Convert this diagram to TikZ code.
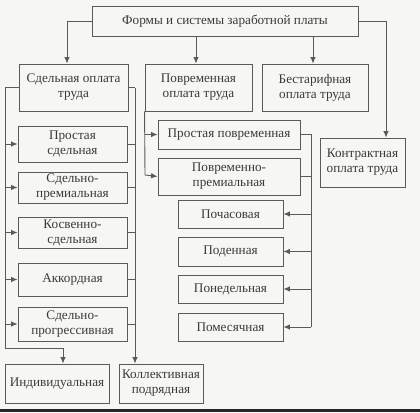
\documentclass[tikz,border=0pt]{standalone}
\usepackage{fontspec}
\setmainfont{Liberation Serif}
\usetikzlibrary{arrows.meta}
\definecolor{ln}{HTML}{5A5A5A}
\definecolor{tx}{HTML}{3A3A3A}
\definecolor{bg}{HTML}{F6F6F4}
\begin{document}
\begin{tikzpicture}[x=1pt,y=-1pt,
  box/.style={draw=ln, line width=0.9pt, inner sep=0pt, align=center, text=tx,
    font=\fontsize{13.2}{15}\selectfont},
  conn/.style={draw=ln, line width=0.9pt},
  arr/.style={conn, -{Latex[length=6.5pt,width=5.5pt]}}]
\useasboundingbox (0,0) rectangle (420,412);
\fill[bg] (0,0) rectangle (420,412);
\fill[black!85] (0,409) rectangle (420,412);
% boxes
\node[box, minimum width=266pt, minimum height=30pt] (top) at (225,21) {Формы и системы заработной платы};
\node[box, minimum width=109pt, minimum height=47pt] (sd) at (73.5,87.5) {Сдельная оплата\\труда};
\node[box, minimum width=107pt, minimum height=47pt] (pv) at (198.5,87.5) {Повременная\\оплата труда};
\node[box, minimum width=106pt, minimum height=47pt] (bt) at (315,87.5) {Бестарифная\\оплата труда};
\node[box, minimum width=85pt, minimum height=49pt] (kt) at (362.5,162.5) {Контрактная\\оплата труда};
\node[box, minimum width=109pt, minimum height=36pt] (s1) at (72.5,144) {Простая\\сдельная};
\node[box, minimum width=109pt, minimum height=31pt] (s2) at (72.5,187.5) {Сдельно-\\премиальная};
\node[box, minimum width=109pt, minimum height=31pt] (s3) at (72.5,232.5) {Косвенно-\\сдельная};
\node[box, minimum width=109pt, minimum height=33pt] (s4) at (72.5,279.5) {Аккордная};
\node[box, minimum width=109pt, minimum height=34pt] (s5) at (72.5,324) {Сдельно-\\прогрессивная};
\node[box, minimum width=104pt, minimum height=39pt] (ind) at (57,383.5) {Индивидуальная};
\node[box, minimum width=84pt, minimum height=39pt] (kol) at (161,383.5) {Коллективная\\подрядная};
\node[box, minimum width=142pt, minimum height=29pt] (p1) at (229,134.5) {Простая повременная};
\node[box, minimum width=142pt, minimum height=37pt] (p2) at (229,176.5) {Повременно-\\премиальная};
\node[box, minimum width=105pt, minimum height=28pt] (h1) at (230.5,214) {Почасовая};
\node[box, minimum width=105pt, minimum height=29pt] (h2) at (230.5,251.5) {Поденная};
\node[box, minimum width=105pt, minimum height=28pt] (h3) at (230.5,289) {Понедельная};
\node[box, minimum width=105pt, minimum height=28pt] (h4) at (230.5,327) {Помесячная};
% coordinates
\coordinate (tl) at (67,21);
\coordinate (tr) at (386,21);
\coordinate (sl) at (5,87.5);
\coordinate (sb) at (5,348);
\coordinate (sbi) at (63,348);
\coordinate (sr) at (135,87.5);
\coordinate (pl) at (145,175);
\coordinate (pr) at (311,134.5);
\coordinate (prb) at (311,327);
% top connectors
\draw[arr] (top.west) -- (tl) -- (tl |- sd.north);
\draw[arr] (top.east) -- (tr) -- (tr |- kt.north);
\draw[arr] (top.south -| 196,0) -- (196,0 |- pv.north);
\draw[arr] (top.south -| 313,0) -- (313,0 |- bt.north);
% Сдельная left bus
\draw[conn] (sd.west) -- (sl) -- (sb) -- (sbi);
\draw[arr] (sbi) -- (sbi |- ind.north);
\foreach \n in {s1,s2,s3,s4,s5} \draw[arr] (sl |- \n.west) -- (\n.west);
% Сдельная right bus
\draw[conn] (sd.east) -- (sr);
\draw[arr] (sr) -- (sr |- kol.north);
\foreach \n in {s1,s2,s3,s4,s5} \draw[conn] (\n.east) -- (sr |- \n.east);
% Повременная left bus
\draw[conn] (pv.south west) -- (pl);
\draw[arr] (pv.south west |- p1.west) -- (p1.west);
\draw[arr] (pl) -- (p2.west);
% Повременная right bus
\draw[conn] (p1.east) -- (pr) -- (prb);
\draw[conn] (p2.east) -- (pr |- p2.east);
\foreach \n in {h1,h2,h3,h4} \draw[arr] (pr |- \n.east) -- (\n.east);
\end{tikzpicture}
\end{document}
